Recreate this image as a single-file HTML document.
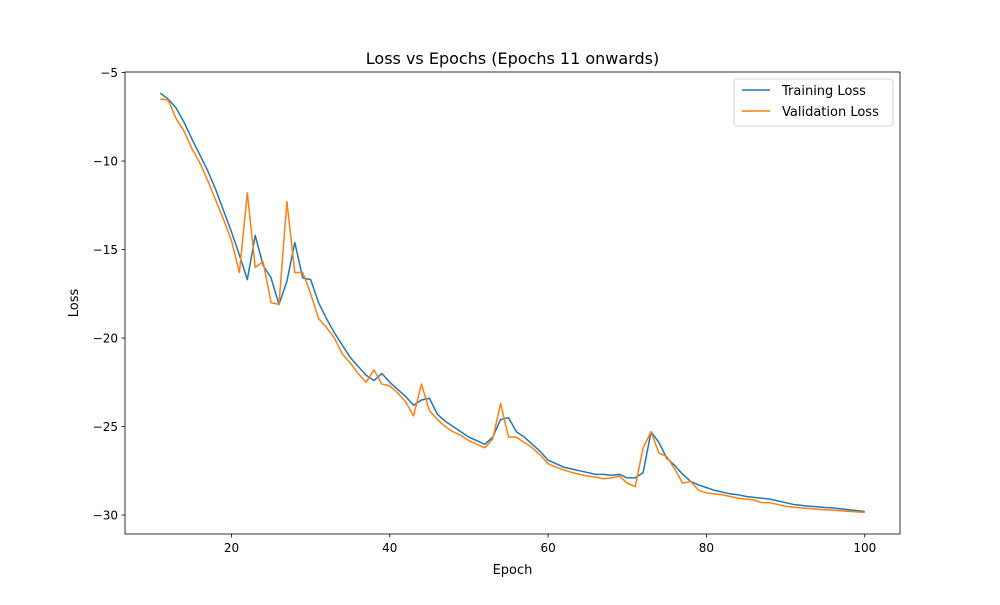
<!DOCTYPE html>
<html><head><meta charset="utf-8"><style>
body{margin:0;background:#fff;}
svg text{font-family:"DejaVu Sans","Liberation Sans",sans-serif;fill:#000;}
</style></head><body>
<svg id="chart" width="1000" height="600" viewBox="0 0 1000 600" xmlns="http://www.w3.org/2000/svg">
<rect width="1000" height="600" fill="#fff"/>
<text x="512.5" y="64" font-size="16" text-anchor="middle">Loss vs Epochs (Epochs 11 onwards)</text>
<g id="ticks"></g>
<g id="lines"></g>
<rect x="125" y="72" width="775" height="462" fill="none" stroke="#000" stroke-width="0.8"/>
<text x="512.5" y="574" font-size="13" text-anchor="middle">Epoch</text>
<text x="78" y="303" font-size="13" text-anchor="middle" transform="rotate(-90 78 303)">Loss</text>
<g>
<rect x="734" y="79" width="159" height="47" rx="3" fill="#fff" stroke="#ccc" stroke-width="0.8"/>
<line x1="742" y1="90" x2="770" y2="90" stroke="#1f77b4" stroke-width="1.5"/>
<text x="782" y="95" font-size="13">Training Loss</text>
<line x1="742" y1="111" x2="770" y2="111" stroke="#ff7f0e" stroke-width="1.5"/>
<text x="782" y="116" font-size="13">Validation Loss</text>
</g>
</svg>
<script>
const epochs = Array.from({length: 90}, (_, i) => i + 11);
const trainLoss = [-6.16,-6.5,-7.0,-7.8,-8.75,-9.65,-10.55,-11.6,-12.8,-14.0,-15.3,-16.7,-14.2,-15.9,-16.6,-18.1,-16.8,-14.6,-16.6,-16.7,
-18.0,-18.9,-19.7,-20.4,-21.1,-21.6,-22.1,-22.4,-22.0,-22.5,-22.9,-23.3,-23.8,-23.5,-23.4,-24.3,-24.7,-25.0,-25.3,-25.6,
-25.8,-26.0,-25.6,-24.6,-24.5,-25.3,-25.6,-26.0,-26.4,-26.9,-27.1,-27.3,-27.4,-27.5,-27.6,-27.7,-27.7,-27.75,-27.7,-27.9,
-27.9,-27.6,-25.3,-25.9,-26.8,-27.2,-27.7,-28.1,-28.3,-28.45,-28.6,-28.7,-28.8,-28.85,-28.95,-29.0,-29.05,-29.1,-29.2,-29.3,
-29.4,-29.45,-29.5,-29.53,-29.57,-29.6,-29.65,-29.7,-29.75,-29.8];
const valLoss = [-6.5,-6.55,-7.6,-8.3,-9.3,-10.1,-11.1,-12.2,-13.3,-14.5,-16.3,-11.8,-16.0,-15.7,-18.0,-18.1,-12.3,-16.3,-16.3,-17.5,
-18.9,-19.4,-20.0,-20.9,-21.4,-22.0,-22.5,-21.8,-22.6,-22.7,-23.1,-23.6,-24.4,-22.6,-24.1,-24.6,-25.0,-25.3,-25.5,-25.8,
-26.0,-26.2,-25.7,-23.7,-25.6,-25.6,-25.9,-26.2,-26.6,-27.1,-27.3,-27.45,-27.6,-27.7,-27.8,-27.85,-27.95,-27.9,-27.8,-28.2,
-28.4,-26.2,-25.3,-26.5,-26.7,-27.4,-28.2,-28.1,-28.6,-28.75,-28.8,-28.85,-28.95,-29.05,-29.1,-29.15,-29.3,-29.3,-29.4,-29.5,
-29.55,-29.6,-29.63,-29.67,-29.7,-29.73,-29.76,-29.79,-29.82,-29.85];
const xTicks = [20,40,60,80,100];
const yTicks = [-5,-10,-15,-20,-25,-30];
const L=125,R=900,T=72,B=534;
const xMin=6.55,xMax=104.45,yMin=-31.07,yMax=-4.97;
const xs=v=>L+(v-xMin)/(xMax-xMin)*(R-L);
const ys=v=>B-(v-yMin)/(yMax-yMin)*(B-T);
const NS="http://www.w3.org/2000/svg";
const tg=document.getElementById('ticks');
xTicks.forEach(t=>{
  const l=document.createElementNS(NS,'line');
  
  
  l.setAttribute('x1',xs(t));l.setAttribute('x2',xs(t));l.setAttribute('y1',B);l.setAttribute('y2',B+3.5);l.setAttribute('stroke','#000');l.setAttribute('stroke-width','0.8');
  tg.appendChild(l);
  const tx=document.createElementNS(NS,'text');
  
  
  tx.setAttribute('x',xs(t));tx.setAttribute('y',B+18);tx.setAttribute('font-size','12');tx.setAttribute('text-anchor','middle');
  tx.textContent=t;tg.appendChild(tx);
});
yTicks.forEach(t=>{
  const l=document.createElementNS(NS,'line');
  
  
  l.setAttribute('x1',L-3.5);l.setAttribute('x2',L);l.setAttribute('y1',ys(t));l.setAttribute('y2',ys(t));l.setAttribute('stroke','#000');l.setAttribute('stroke-width','0.8');
  tg.appendChild(l);
  const tx=document.createElementNS(NS,'text');
  
  
  tx.setAttribute('x',L-7);tx.setAttribute('y',ys(t)+4.5);tx.setAttribute('font-size','12');tx.setAttribute('text-anchor','end');
  tx.textContent='\u2212'+Math.abs(t);tg.appendChild(tx);
});
const lg=document.getElementById('lines');
function drawLine(vals,color,name){
  const p=document.createElementNS(NS,'polyline');
  
  
  p.setAttribute('points',vals.map((v,i)=>xs(epochs[i]).toFixed(2)+','+ys(v).toFixed(2)).join(' '));
  p.setAttribute('fill','none');p.setAttribute('stroke',color);p.setAttribute('stroke-width','1.5');p.setAttribute('stroke-linejoin','round');
  lg.appendChild(p);
}
drawLine(trainLoss,'#1f77b4','training-loss-line');
drawLine(valLoss,'#ff7f0e','validation-loss-line');
</script>
</body></html>
